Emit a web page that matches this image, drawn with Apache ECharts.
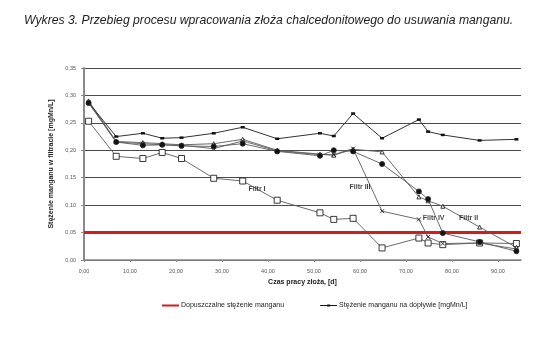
<!DOCTYPE html>
<html>
<head>
<meta charset="utf-8">
<style>
  html, body { margin: 0; padding: 0; background: #fff; }
  #chart { width: 545px; height: 341px; }
</style>
<script src="https://cdn.jsdelivr.net/npm/echarts@6/dist/echarts.min.js"></script>
</head>
<body>
<div id="chart"></div>
<script>
// Operating time of the bed, days
const days = [1, 7, 12.8, 17, 21.2, 28.2, 34.5, 42, 51.3, 54.3, 58.5, 64.8, 72.8, 74.8, 78, 86, 94];

// Manganese concentration in the inflow [mgMn/L]
const inflow = [0.287, 0.225, 0.231, 0.222, 0.223, 0.231, 0.242, 0.221, 0.231, 0.226, 0.267, 0.222, 0.256, 0.234, 0.228, 0.218, 0.220];

// Manganese concentration in the filtrate of each filter [mgMn/L]
const filter1 = [0.253, 0.189, 0.185, 0.196, 0.185, 0.149, 0.144, 0.109, 0.086, 0.074, 0.076, 0.022, 0.040, 0.031, 0.028, 0.031, 0.030];
const filter2 = [0.290, 0.216, 0.214, 0.212, 0.210, 0.212, 0.220, 0.200, 0.193, 0.191, 0.202, 0.197, 0.115, 0.108, 0.098, 0.060, 0.023];
const filter3 = [0.288, 0.215, 0.212, 0.210, 0.209, 0.203, 0.217, 0.199, 0.192, 0.192, 0.203, 0.089, 0.074, 0.042, 0.030, 0.031, 0.020];
const filter4 = [0.286, 0.215, 0.209, 0.210, 0.208, 0.207, 0.212, 0.198, 0.190, 0.200, 0.198, 0.175, 0.125, 0.111, 0.049, 0.033, 0.016];

// Permissible manganese concentration
const limitValue = 0.05;
const xRange = [0, 95];

// Axis ticks and labels
const xTicks = [0, 10, 20, 30, 40, 50, 60, 70, 80, 90];
const yTicks = [0, 0.05, 0.10, 0.15, 0.20, 0.25, 0.30, 0.35];

// In-chart filter names and their anchor points [day, mgMn/L]
const filterNames = ['Filtr I', 'Filtr III', 'Filtr IV', 'Filtr II'];
const filterNamePos = [[37.6, 0.129], [60.0, 0.133], [76.0, 0.076], [83.6, 0.076]];

const title = 'Wykres 3. Przebieg procesu wpracowania złoża chalcedonitowego do usuwania manganu.';
const limitName = 'Dopuszczalne stężenie manganu';
const inflowName = 'Stężenie manganu na dopływie [mgMn/L]';

const fmt = (v, d) => v.toFixed(d).replace('.', ',');
const pairs = arr => days.map((d, i) => [d, arr[i]]);

const FONT = '"Liberation Sans", Arial, sans-serif';
const lineGray = '#5a5a5a';

function filterSeries(name, arr, symbol, size, fill) {
  return {
    name: name,
    type: 'line',
    data: pairs(arr),
    symbol: symbol,
    symbolSize: size,
    showAllSymbol: true,
    lineStyle: { color: lineGray, width: 0.9 },
    itemStyle: { color: fill, borderColor: '#222', borderWidth: 0.9 },
    z: 3,
    animation: false
  };
}

const chart = echarts.init(document.getElementById('chart'), null, { renderer: 'canvas' });

chart.setOption({
  animation: false,
  backgroundColor: '#fff',
  textStyle: { fontFamily: FONT },
  title: {
    text: title,
    left: 19,
    top: 10,
    textStyle: { fontFamily: FONT, fontSize: 12.2, fontStyle: 'italic', fontWeight: 'normal', color: '#222' }
  },
  grid: { left: 84, top: 68, width: 437, height: 192, containLabel: false },
  legend: {
    left: 157,
    top: 297,
    itemWidth: 17,
    itemHeight: 8,
    itemGap: 36,
    data: [
      { name: limitName, icon: 'path://M0,3 L17,3 L17,5 L0,5 Z' },
      { name: inflowName, icon: 'path://M0,3.6 L17,3.6 L17,4.4 L0,4.4 Z M7,3 L10,3 L10,5 L7,5 Z' }
    ],
    textStyle: { fontSize: 7, color: '#222', fontFamily: FONT, padding: [0, 0, 0, -3] }
  },
  xAxis: {
    type: 'value',
    min: xRange[0],
    max: xRange[1],
    interval: 10,
    name: 'Czas pracy złoża, [d]',
    nameLocation: 'middle',
    nameGap: 15,
    nameTextStyle: { fontSize: 7, fontWeight: 'bold', color: '#222', fontFamily: FONT },
    axisLine: { show: true, lineStyle: { color: '#8a8a8a', width: 1.5 } },
    axisTick: { show: true, length: 2, inside: false, lineStyle: { color: '#8a8a8a' }, customValues: xTicks },
    axisLabel: { fontSize: 5.5, color: '#555', margin: 8, customValues: xTicks, formatter: v => fmt(v, 2) },
    splitLine: { show: false }
  },
  yAxis: {
    type: 'value',
    min: 0,
    max: 0.35,
    interval: 0.05,
    name: 'Stężenie manganu w filtracie [mgMn/L]',
    nameLocation: 'middle',
    nameGap: 21,
    nameRotate: 90,
    nameTextStyle: { fontSize: 7, fontWeight: 'bold', color: '#222', fontFamily: FONT },
    axisLine: { show: true, lineStyle: { color: '#8a8a8a', width: 2 } },
    axisTick: { show: true, length: 3, lineStyle: { color: '#8a8a8a' } },
    axisLabel: { fontSize: 5.5, color: '#555', margin: 8, customValues: yTicks, formatter: v => fmt(v, 2) },
    splitLine: { show: true, lineStyle: { color: '#4a4a4a', width: 1 } }
  },
  series: [
    {
      name: limitName,
      type: 'line',
      data: [[xRange[0], limitValue], [xRange[1], limitValue]],
      symbol: 'none',
      lineStyle: { color: '#d41c1c', width: 3 },
      itemStyle: { color: '#d41c1c' },
      z: 2
    },
    filterSeries('Filtr I', filter1, 'rect', 6, '#fff'),
    filterSeries('Filtr II', filter2, 'triangle', 4, '#fff'),
    filterSeries('Filtr III', filter3, 'path://M0,0 L10,10 M10,0 L0,10', 4, 'none'),
    filterSeries('Filtr IV', filter4, 'circle', 5, '#111'),
    {
      name: inflowName,
      type: 'line',
      data: pairs(inflow),
      symbol: 'rect',
      symbolSize: [4, 2.5],
      showAllSymbol: true,
      lineStyle: { color: '#333', width: 1 },
      itemStyle: { color: '#111' },
      z: 4
    },
    {
      name: 'filter names',
      type: 'scatter',
      data: filterNamePos.map((p, i) => ({ value: p, name: filterNames[i] })),
      symbolSize: 0,
      silent: true,
      label: {
        show: true,
        position: 'inside',
        formatter: p => p.name,
        fontSize: 7,
        fontWeight: 'bold',
        color: '#111',
        fontFamily: FONT
      },
      z: 5
    }
  ]
});
</script>
</body>
</html>
